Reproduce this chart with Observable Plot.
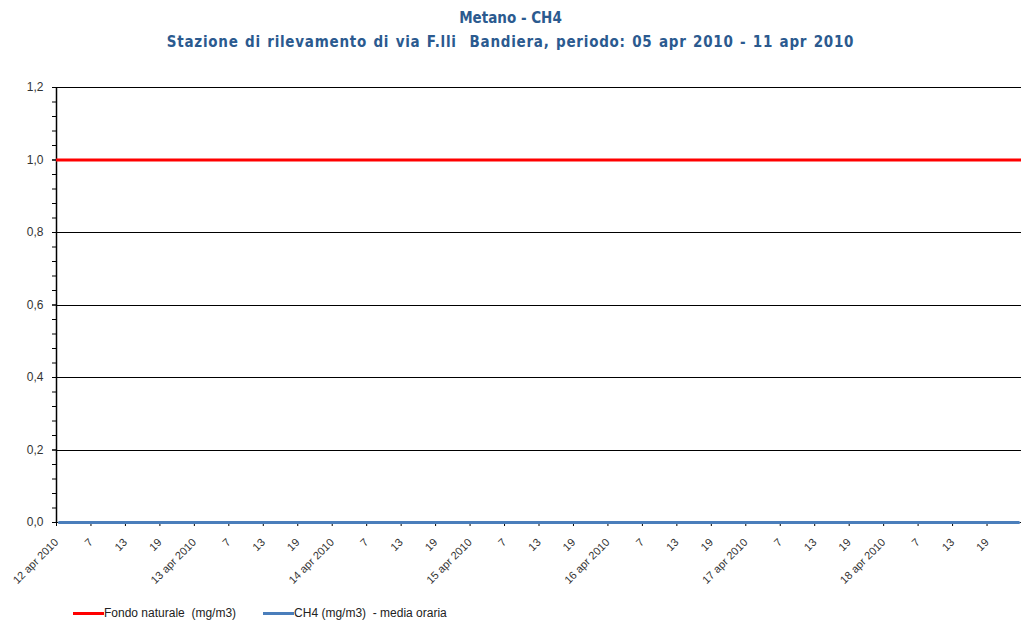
<!DOCTYPE html>
<html>
<head>
<meta charset="utf-8">
<script src="https://cdn.jsdelivr.net/npm/d3@7"></script>
<script src="https://cdn.jsdelivr.net/npm/@observablehq/plot@0.6"></script>
<style>
  html, body { margin: 0; padding: 0; background: #fff; }
  #title { width: 1021px; height: 60px; text-align: center; color: #2b5a8f;
           font-family: "DejaVu Sans Condensed", Tahoma, sans-serif; font-weight: bold; font-size: 15px; }
  #title .l1 { position: absolute; top: 9px; left: 0; width: 1021px; }
  #title .l2 { position: absolute; top: 33px; left: 0; width: 1021px; letter-spacing: 0.75px; word-spacing: 1px; }
  #chart { position: absolute; top: 60px; left: 0; }
  #legend { position: absolute; top: 606px; left: 73px; font-family: "Liberation Sans", Arial, sans-serif;
            font-size: 12px; color: #222; display: flex; align-items: center; }
  .item { display: flex; align-items: center; }
  .sw { width: 31px; height: 3px; display: inline-block; }
</style>
</head>
<body>
<div id="title">
  <div class="l1">Metano - CH4</div>
  <div class="l2">Stazione di rilevamento di via F.lli&nbsp; Bandiera, periodo: 05 apr 2010 - 11 apr 2010</div>
</div>
<div id="chart"></div>
<div id="legend"></div>
<script>
// ---- data ----
const dayLabels = ["12 apr 2010", "13 apr 2010", "14 apr 2010", "15 apr 2010", "16 apr 2010", "17 apr 2010", "18 apr 2010"];
const hourLabels = ["7", "13", "19"];           // labels at hour index 6, 12, 18 of each day
const yTickValues = [0, 0.2, 0.4, 0.6, 0.8, 1.0, 1.2];
const seriesNames = ["Fondo naturale  (mg/m3)", "CH4 (mg/m3)  - media oraria"];
const seriesColors = ["#ff0000", "#4a7ebb"];
const fondoNaturale = 1.0;                      // constant reference level
// CH4 hourly means (mg/m3), one row per day, 24 hours each
const ch4Day1 = [0,0,0,0,0,0,0,0,0,0,0,0,0,0,0,0,0,0,0,0,0,0,0,0];
const ch4Day2 = [0,0,0,0,0,0,0,0,0,0,0,0,0,0,0,0,0,0,0,0,0,0,0,0];
const ch4Day3 = [0,0,0,0,0,0,0,0,0,0,0,0,0,0,0,0,0,0,0,0,0,0,0,0];
const ch4Day4 = [0,0,0,0,0,0,0,0,0,0,0,0,0,0,0,0,0,0,0,0,0,0,0,0];
const ch4Day5 = [0,0,0,0,0,0,0,0,0,0,0,0,0,0,0,0,0,0,0,0,0,0,0,0];
const ch4Day6 = [0,0,0,0,0,0,0,0,0,0,0,0,0,0,0,0,0,0,0,0,0,0,0,0];
const ch4Day7 = [0,0,0,0,0,0,0,0,0,0,0,0,0,0,0,0,0,0,0,0,0,0,0,0];

// ---- build ----
const ch4 = [ch4Day1, ch4Day2, ch4Day3, ch4Day4, ch4Day5, ch4Day6, ch4Day7]
  .flatMap((day, d) => day.map((v, h) => ({i: d * 24 + h + 0.5, v})));
const nHours = dayLabels.length * 24;
const xTicks = d3.range(0, nHours, 6);
const yMinor = d3.range(0, 1.2001, 0.04);
const fmtX = i => (i % 24 === 0 ? dayLabels[i / 24] : hourLabels[(i % 24) / 6 - 1]);
const fmtY = d => d.toFixed(1).replace(".", ",");

const plot = Plot.plot({
  width: 1021,
  height: 532,
  marginTop: 27,
  marginLeft: 56,
  marginRight: 0,
  marginBottom: 70,
  style: {fontFamily: "'Liberation Sans', Arial, sans-serif", fontSize: "11px", color: "#333", background: "#fff"},
  x: {domain: [0, nHours], axis: null},
  y: {domain: [0, 1.2], axis: null},
  marks: [
    Plot.gridY(yTickValues.slice(1), {stroke: "#000", strokeOpacity: 1, strokeWidth: 1, shapeRendering: "crispEdges"}),
    Plot.axisY(yMinor, {tickSize: 4, tickFormat: () => "", stroke: "#000", label: null}),
    Plot.axisY(yTickValues, {tickSize: 4, tickPadding: 9, tickFormat: fmtY, fontSize: 12, fill: "#333", stroke: "#000", label: null}),
    Plot.axisX(xTicks, {tickSize: 4, tickRotate: -45, tickPadding: 14, tickFormat: fmtX, fontSize: 11, fill: "#333", stroke: "#000", label: null}),
    Plot.ruleX([0], {y1: 0, y2: 1.2, stroke: "#000", strokeWidth: 1.5}),
    Plot.ruleY([0], {stroke: "#000"}),
    Plot.ruleY([fondoNaturale], {stroke: seriesColors[0], strokeWidth: 3}),
    Plot.line(ch4, {x: "i", y: "v", stroke: seriesColors[1], strokeWidth: 3})
  ]
});
document.getElementById("chart").appendChild(plot);

const legend = document.getElementById("legend");
seriesNames.forEach((name, k) => {
  const item = document.createElement("span");
  item.className = "item";
  item.style.marginRight = k === 0 ? "27px" : "0";
  const sw = document.createElement("span");
  sw.className = "sw";
  sw.style.background = seriesColors[k];
  const t = document.createElement("span");
  t.textContent = name;
  t.style.whiteSpace = "pre";
  item.appendChild(sw);
  item.appendChild(t);
  legend.appendChild(item);
});
</script>
</body>
</html>
